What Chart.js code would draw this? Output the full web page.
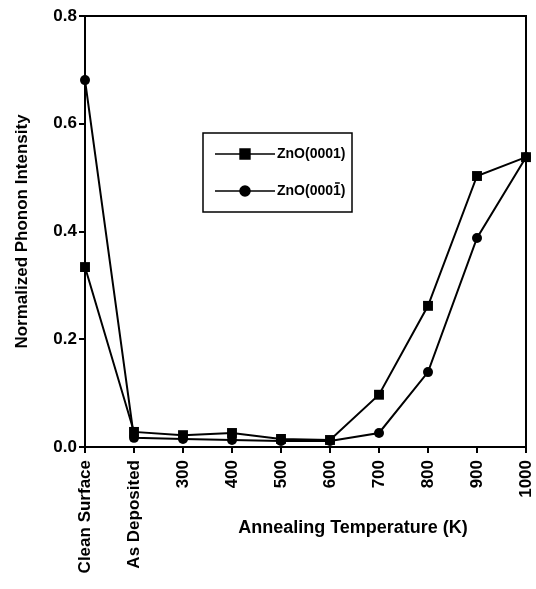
<!DOCTYPE html>
<html>
<head>
<meta charset="utf-8">
<script src="https://cdn.jsdelivr.net/npm/chart.js@4.4.0/dist/chart.umd.min.js"></script>
<style>
  html, body { margin: 0; padding: 0; background: #fff; }
  #wrap { width: 536px; height: 589px; }
</style>
</head>
<body>
<div id="wrap"><canvas id="phononChart" width="536" height="589"></canvas></div>
<script>
const categories = ['Clean Surface', 'As Deposited', '300', '400', '500', '600', '700', '800', '900', '1000'];
const zno0001 = [0.334, 0.028, 0.022, 0.026, 0.015, 0.013, 0.097, 0.262, 0.503, 0.538];
const zno000bar1 = [0.681, 0.017, 0.015, 0.013, 0.011, 0.011, 0.026, 0.139, 0.388, 0.538];
const seriesNames = ['ZnO(0001)', 'ZnO(000', '1', ')'];
const yTicks = [0, 0.2, 0.4, 0.6, 0.8];

const FONT = '"Liberation Sans", Arial, Helvetica, sans-serif';

// box round the plot, legend box and x title
const framePlugin = {
    id: 'frame',
    afterDraw(chart) {
        const ctx = chart.ctx;
        const a = chart.chartArea;
        ctx.save();
        ctx.strokeStyle = '#000';
        ctx.lineWidth = 2;
        ctx.beginPath();
        ctx.moveTo(a.left, a.top);
        ctx.lineTo(a.right, a.top);
        ctx.lineTo(a.right, a.bottom);
        ctx.stroke();

        // legend
        const lx = 203, ly = 133, lw = 149, lh = 79;
        ctx.lineWidth = 1.5;
        ctx.strokeRect(lx, ly, lw, lh);
        const rows = [
            { y: ly + 21, style: 'rect', r: 7 },
            { y: ly + 58, style: 'circle', r: 5 }
        ];
        rows.forEach((row, i) => {
            ctx.lineWidth = 1.5;
            ctx.beginPath();
            ctx.moveTo(lx + 12, row.y);
            ctx.lineTo(lx + 72, row.y);
            ctx.stroke();
            ctx.fillStyle = '#000';
            Chart.helpers.drawPoint(ctx, { pointStyle: row.style, radius: row.r, borderWidth: 1 }, lx + 42, row.y);
            ctx.fill();
            ctx.font = 'bold 14px ' + FONT;
            ctx.textBaseline = 'middle';
            ctx.textAlign = 'left';
            const tx = lx + 74;
            if (i === 0) {
                ctx.fillText(seriesNames[0], tx, row.y);
            } else {
                let x = tx;
                ctx.fillText(seriesNames[1], x, row.y);
                x += ctx.measureText(seriesNames[1]).width;
                const w1 = ctx.measureText(seriesNames[2]).width;
                ctx.fillText(seriesNames[2], x, row.y);
                ctx.lineWidth = 1.5;
                ctx.beginPath();
                ctx.moveTo(x + 2, row.y - 8);
                ctx.lineTo(x + w1 - 1, row.y - 8);
                ctx.stroke();
                x += w1;
                ctx.fillText(seriesNames[3], x, row.y);
            }
        });

        // x axis title
        ctx.font = 'bold 18px ' + FONT;
        ctx.textAlign = 'center';
        ctx.textBaseline = 'alphabetic';
        ctx.fillText('Annealing Temperature (K)', 353, 533);
        ctx.restore();
    }
};

const ctx = document.getElementById('phononChart').getContext('2d');
const phononChart = new Chart(ctx, {
    type: 'line',
    data: {
        labels: categories,
        datasets: [
            {
                label: 'ZnO(0001)',
                data: zno0001,
                borderColor: '#000',
                backgroundColor: '#000',
                borderWidth: 2,
                pointStyle: 'rect',
                pointRadius: 7,
                pointBorderWidth: 0,
                tension: 0
            },
            {
                label: 'ZnO(000\u0304\u0031)',
                data: zno000bar1,
                borderColor: '#000',
                backgroundColor: '#000',
                borderWidth: 2,
                pointStyle: 'circle',
                pointRadius: 5,
                pointBorderWidth: 0,
                tension: 0
            }
        ]
    },
    options: {
        responsive: false,
        animation: false,
        layout: { padding: { top: 16, right: 10, left: 0, bottom: 0 } },
        plugins: {
            legend: { display: false },
            tooltip: { enabled: false }
        },
        scales: {
            x: {
                type: 'category',
                offset: false,
                grid: { display: true, drawOnChartArea: false, drawTicks: true, tickLength: 6, color: '#000', lineWidth: 2 },
                border: { display: true, color: '#000', width: 2 },
                ticks: {
                    color: '#000',
                    font: { family: FONT, size: 17, weight: 'bold' },
                    minRotation: 90,
                    maxRotation: 90,
                    autoSkip: false,
                    padding: 7
                },
                afterFit(scale) {
                    scale.height = 142;
                    scale.paddingLeft = 0;
                    scale.paddingRight = 0;
                }
            },
            y: {
                min: 0,
                max: 0.8,
                grid: { display: true, drawOnChartArea: false, drawTicks: true, tickLength: 6, color: '#000', lineWidth: 2 },
                border: { display: true, color: '#000', width: 2 },
                afterBuildTicks(scale) { scale.ticks = yTicks.map(v => ({ value: v })); },
                ticks: {
                    color: '#000',
                    font: { family: FONT, size: 17, weight: 'bold' },
                    padding: 2,
                    callback: v => Number(v).toFixed(1)
                },
                title: {
                    display: true,
                    text: 'Normalized Phonon Intensity',
                    color: '#000',
                    font: { family: FONT, size: 17, weight: 'bold' },
                    padding: { top: 12, bottom: 0 }
                },
                afterFit(scale) { scale.width = 85; }
            }
        }
    },
    plugins: [framePlugin]
});
</script>
</body>
</html>
